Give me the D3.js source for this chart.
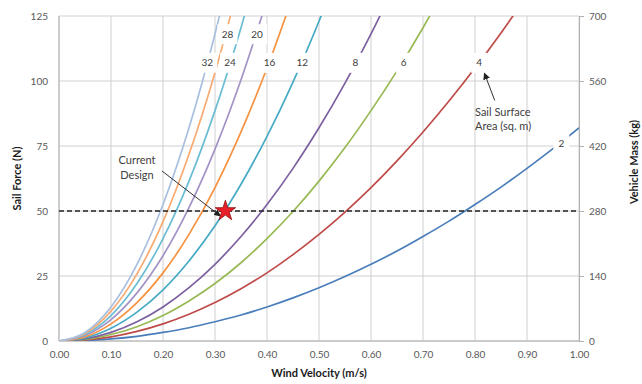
<!DOCTYPE html>
<html>
<head>
<meta charset="utf-8">
<title>Sail Force vs Wind Velocity</title>
<script src="https://cdn.jsdelivr.net/npm/d3@7"></script>
<style>
  body { margin: 0; background: #fff; }
  text { font-family: Lato, "Open Sans", sans-serif; }
</style>
</head>
<body>
<script>
// ---------- data ----------
var velocity = [0, 0.05, 0.10, 0.15, 0.20, 0.25, 0.30, 0.35, 0.40, 0.45, 0.50,
                0.55, 0.60, 0.65, 0.70, 0.75, 0.80, 0.85, 0.90, 0.95, 1.00];
var areas = [2, 4, 6, 8, 12, 16, 20, 24, 28, 32];

var force2  = [0, 0.2, 0.8, 1.8, 3.3, 5.1, 7.4, 10.0, 13.1, 16.6, 20.5, 24.8, 29.5, 34.6, 40.2, 46.1, 52.5, 59.2, 66.4, 74.0, 82.0];
var force4  = [0, 0.4, 1.6, 3.7, 6.6, 10.3, 14.8, 20.1, 26.2, 33.2, 41.0, 49.6, 59.0, 69.3, 80.4, 92.3, 105.0, 118.5, 132.8];
var force6  = [0, 0.6, 2.5, 5.5, 9.8, 15.4, 22.1, 30.1, 39.4, 49.8, 61.5, 74.4, 88.6, 103.9, 120.5, 138.4];
var force8  = [0, 0.8, 3.3, 7.4, 13.1, 20.5, 29.5, 40.2, 52.5, 66.4, 82.0, 99.2, 118.1, 138.6];
var force12 = [0, 1.2, 4.9, 11.1, 19.7, 30.8, 44.3, 60.3, 78.7, 99.6, 123.0, 148.8];
var force16 = [0, 1.6, 6.6, 14.8, 26.2, 41.0, 59.0, 80.4, 105.0, 132.8];
var force20 = [0, 2.1, 8.2, 18.5, 32.8, 51.3, 73.8, 100.5, 131.2];
var force24 = [0, 2.5, 9.8, 22.1, 39.4, 61.5, 88.6, 120.5, 157.4];
var force28 = [0, 2.9, 11.5, 25.8, 45.9, 71.8, 103.3, 140.6];
var force32 = [0, 3.3, 13.1, 29.5, 52.5, 82.0, 118.1, 160.7];
var forces = [force2, force4, force6, force8, force12, force16, force20, force24, force28, force32];

// where each area label sits on its curve (velocity, force)
var labelVelocity = [0.966, 0.808, 0.663, 0.57, 0.468, 0.405, 0.381, 0.329, 0.324, 0.285];
var labelForce    = [76, 107, 107, 107, 107, 107, 118, 107, 118, 107];

var xTicks = [0, 0.1, 0.2, 0.3, 0.4, 0.5, 0.6, 0.7, 0.8, 0.9, 1.0];
var yTicks = [0, 25, 50, 75, 100, 125];
var massTicks = [0, 140, 280, 420, 560, 700];

var designVelocity = 0.32, designForce = 50;

var colors = ["#4a7ebb", "#be4b48", "#98b954", "#7d60a0", "#46aac5", "#f69240",
              "#a393c6", "#6bbdd3", "#f8ab72", "#a9bfdf"];

// ---------- layout ----------
var width = 642, height = 384;
var plotL = 59, plotR = 579, plotT = 16, plotB = 341;

var svg = d3.select("body").append("svg")
    .attr("width", width).attr("height", height);

var x = d3.scaleLinear().domain([0, 1]).range([plotL, plotR]);
var y = d3.scaleLinear().domain([0, 125]).range([plotB, plotT]);
var yMass = d3.scaleLinear().domain([0, 700]).range([plotB, plotT]);

// gridlines
svg.append("g").selectAll("line").data(xTicks).enter().append("line")
    .attr("x1", d => x(d)).attr("x2", d => x(d))
    .attr("y1", plotT).attr("y2", plotB)
    .attr("stroke", "#d0d0d0").attr("stroke-width", 1);
svg.append("g").selectAll("line").data(yTicks).enter().append("line")
    .attr("x1", plotL).attr("x2", plotR)
    .attr("y1", d => y(d)).attr("y2", d => y(d))
    .attr("stroke", "#d0d0d0").attr("stroke-width", 1);
svg.append("line").attr("x1", plotL).attr("x2", plotL).attr("y1", plotT).attr("y2", plotB)
    .attr("stroke", "#b0b0b0");
svg.append("line").attr("x1", plotL).attr("x2", plotR).attr("y1", plotB).attr("y2", plotB)
    .attr("stroke", "#b0b0b0");

// axes
var xAxis = svg.append("g").attr("transform", "translate(0," + plotB + ")")
    .call(d3.axisBottom(x).tickValues(xTicks).tickFormat(d3.format(".2f")).tickSize(0).tickPadding(10));
var yAxis = svg.append("g").attr("transform", "translate(" + plotL + ",0)")
    .call(d3.axisLeft(y).tickValues(yTicks).tickSize(0).tickPadding(11));
var mAxis = svg.append("g").attr("transform", "translate(" + plotR + ",0)")
    .call(d3.axisRight(yMass).tickValues(massTicks).tickSize(5).tickPadding(5).tickSizeOuter(0));
[xAxis, yAxis, mAxis].forEach(function (g) {
  g.select(".domain").attr("stroke", "#b0b0b0");
  g.selectAll(".tick line").attr("stroke", "#b0b0b0");
  g.selectAll(".tick text").attr("fill", "#595959").attr("font-size", "10px")
    .style("font-family", "Lato, 'Open Sans', sans-serif");
});
xAxis.select(".domain").remove();
yAxis.select(".domain").remove();

// axis titles
svg.append("text").attr("x", (plotL + plotR) / 2).attr("y", 377)
    .attr("text-anchor", "middle").attr("font-size", "11px").attr("font-weight", "bold")
    .attr("fill", "#1a1a1a").text("Wind Velocity (m/s)");
svg.append("text").attr("transform", "translate(21," + ((plotT + plotB) / 2) + ") rotate(-90)")
    .attr("text-anchor", "middle").attr("font-size", "11px").attr("font-weight", "bold")
    .attr("fill", "#1a1a1a").text("Sail Force (N)");
svg.append("text").attr("transform", "translate(638,162) rotate(-90)")
    .attr("text-anchor", "middle").attr("font-size", "11px").attr("font-weight", "bold")
    .attr("fill", "#1a1a1a").text("Vehicle Mass (kg)");

// curves
svg.append("clipPath").attr("id", "plotClip").append("rect")
    .attr("x", plotL).attr("y", plotT).attr("width", plotR - plotL).attr("height", plotB - plotT);

var line = d3.line()
    .x(function (d) { return x(d[0]); })
    .y(function (d) { return y(d[1]); })
    .curve(d3.curveMonotoneX);

svg.append("g").attr("clip-path", "url(#plotClip)")
    .selectAll("path").data(forces).enter().append("path")
    .attr("d", function (f) { return line(f.map(function (v, i) { return [velocity[i], v]; })); })
    .attr("fill", "none")
    .attr("stroke", function (d, i) { return colors[i]; })
    .attr("stroke-width", 1.7);

// design line
svg.append("line")
    .attr("x1", x(0)).attr("x2", x(1))
    .attr("y1", y(designForce)).attr("y2", y(designForce))
    .attr("stroke", "#222").attr("stroke-width", 1.4).attr("stroke-dasharray", "5,3");

// area labels with white boxes
var labels = svg.append("g").selectAll("g").data(areas).enter().append("g")
    .attr("transform", function (d, i) {
      return "translate(" + x(labelVelocity[i]) + "," + y(labelForce[i]) + ")";
    });
labels.append("rect")
    .attr("x", function (d) { return d < 10 ? -8 : -10; })
    .attr("width", function (d) { return d < 10 ? 16 : 20; })
    .attr("y", -10).attr("height", 20).attr("fill", "#fff");
labels.append("text").attr("text-anchor", "middle").attr("dy", "0.35em")
    .attr("font-size", "10px").attr("fill", "#404040").text(function (d) { return d; });

// arrow marker
svg.append("defs").append("marker").attr("id", "arrow")
    .attr("viewBox", "0 0 10 10").attr("refX", 9).attr("refY", 5)
    .attr("markerWidth", 7).attr("markerHeight", 7).attr("orient", "auto")
    .append("path").attr("d", "M0,0 L10,5 L0,10 z").attr("fill", "#222");

// "Current Design" annotation
svg.append("line")
    .attr("x1", x(0.198)).attr("y1", y(65.4))
    .attr("x2", x(designVelocity) - 5).attr("y2", y(designForce) + 5)
    .attr("stroke", "#333").attr("stroke-width", 1).attr("marker-end", "url(#arrow)");
svg.append("text").attr("x", x(0.15)).attr("y", y(68))
    .attr("text-anchor", "middle").attr("font-size", "11px").attr("fill", "#404040")
    .selectAll("tspan").data(["Current", "Design"]).enter().append("tspan")
    .attr("x", x(0.15)).attr("dy", function (d, i) { return i ? "1.3em" : 0; })
    .text(function (d) { return d; });

// star
svg.append("path")
    .attr("d", d3.symbol().type(d3.symbolStar).size(130))
    .attr("transform", "translate(" + x(designVelocity) + "," + y(designForce) + ")")
    .attr("fill", "#e8202a").attr("stroke", "#8a1010").attr("stroke-width", 0.8);

// "Sail Surface Area" annotation
svg.append("line")
    .attr("x1", x(0.838)).attr("y1", y(92.5))
    .attr("x2", x(0.818)).attr("y2", y(103))
    .attr("stroke", "#333").attr("stroke-width", 1).attr("marker-end", "url(#arrow)");
svg.append("text").attr("x", x(0.8)).attr("y", y(86.5))
    .attr("font-size", "11px").attr("fill", "#404040")
    .selectAll("tspan").data(["Sail Surface", "Area (sq. m)"]).enter().append("tspan")
    .attr("x", x(0.8)).attr("dy", function (d, i) { return i ? "1.3em" : 0; })
    .text(function (d) { return d; });
</script>
</body>
</html>
